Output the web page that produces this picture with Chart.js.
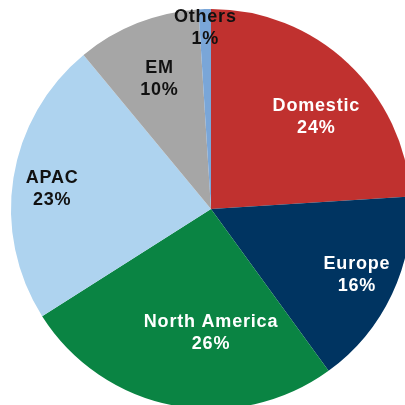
<!DOCTYPE html>
<html>
<head>
<meta charset="utf-8">
<script src="https://cdn.jsdelivr.net/npm/chart.js@4"></script>
<style>
  html, body { margin: 0; padding: 0; background: #fff; overflow: hidden; }
  #wrap { position: absolute; left: 0; top: 0; width: 422px; height: 418px; }
</style>
</head>
<body>
<div id="wrap"><canvas id="regionPie"></canvas></div>
<script>
const regions = ["Domestic", "Europe", "North America", "APAC", "EM", "Others"];
const shares = [24, 16, 26, 23, 10, 1];
const sliceColors = ["#c0312f", "#003461", "#0a8443", "#aed3ef", "#a6a6a6", "#7aa6d8"];
const labelColors = ["#fff", "#fff", "#fff", "#111", "#111", "#111"];
// where each label sits: fraction of radius, and a small angle nudge (deg)
const labelSpots = [
  { r: 0.70, da: 5.6 },
  { r: 0.80, da: -1 },
  { r: 0.62, da: -10.8 },
  { r: 0.80, da: -2 },
  { r: 0.70, da: 0 },
  { r: 0.905, da: 0 }
];

const sliceLabels = {
  id: "sliceLabels",
  afterDatasetsDraw(chart) {
    const ctx = chart.ctx;
    const arcs = chart.getDatasetMeta(0).data;
    ctx.save();
    ctx.font = "bold 18px 'Liberation Sans', Arial, sans-serif";
    ctx.letterSpacing = "0.8px";
    ctx.textAlign = "center";
    ctx.textBaseline = "middle";
    arcs.forEach((arc, i) => {
      const p = arc.getProps(["x", "y", "startAngle", "endAngle", "outerRadius"], true);
      const mid = (p.startAngle + p.endAngle) / 2 + labelSpots[i].da * Math.PI / 180;
      const rr = p.outerRadius * labelSpots[i].r;
      const x = p.x + Math.cos(mid) * rr;
      const y = p.y + Math.sin(mid) * rr;
      ctx.fillStyle = labelColors[i];
      ctx.fillText(regions[i], x, y - 11);
      ctx.fillText(shares[i] + "%", x, y + 11);
    });
    ctx.restore();
  }
};

new Chart(document.getElementById("regionPie"), {
  type: "pie",
  data: {
    labels: regions,
    datasets: [{
      data: shares,
      backgroundColor: sliceColors,
      borderWidth: 0
    }]
  },
  options: {
    responsive: true,
    maintainAspectRatio: false,
    animation: false,
    layout: { padding: 9 },
    plugins: {
      legend: { display: false },
      tooltip: { enabled: false }
    }
  },
  plugins: [sliceLabels]
});
</script>
</body>
</html>
